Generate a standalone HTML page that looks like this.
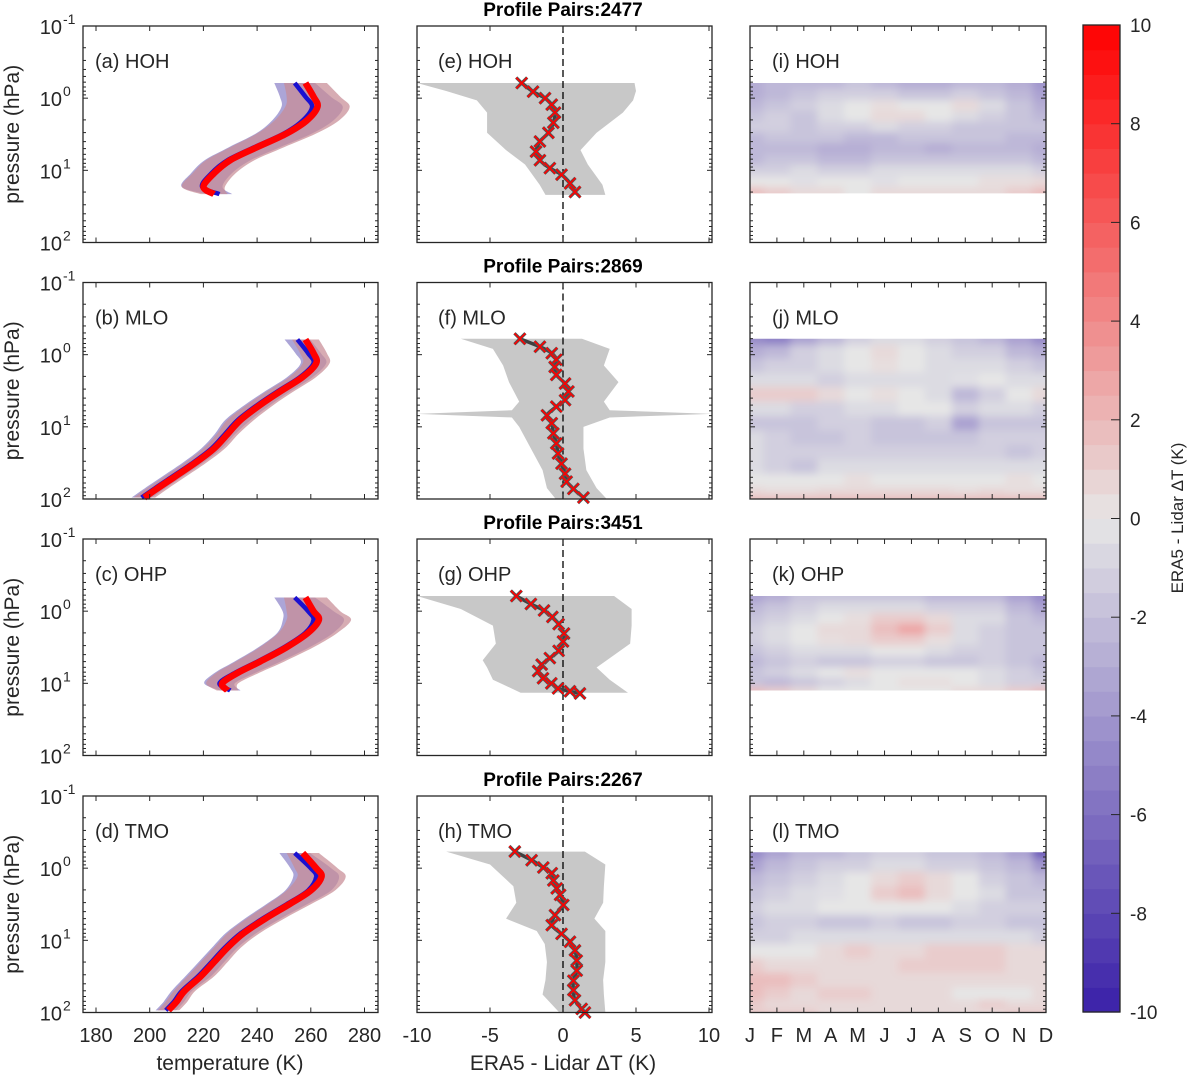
<!DOCTYPE html>
<html><head><meta charset="utf-8">
<style>
html,body{margin:0;padding:0;background:#fff;}
svg{display:block;font-family:"Liberation Sans","DejaVu Sans",sans-serif;}
</style></head>
<body>
<svg id="fig" xmlns="http://www.w3.org/2000/svg" width="1187" height="1075" viewBox="0 0 1187 1075">
<defs>
<filter id="blur" x="-20%" y="-20%" width="140%" height="140%"><feGaussianBlur stdDeviation="4"/></filter>
</defs>
</svg>
<script>
// ---------- data ----------
const stations = ['HOH','MLO','OHP','TMO'];
const pairCounts = [2477, 2869, 3451, 2267];
const letters1 = ['a','b','c','d'], letters2 = ['e','f','g','h'], letters3 = ['i','j','k','l'];
const tempTicks = [180,200,220,240,260,280];
const deltaTicks = [-10,-5,0,5,10];
const monthLabels = ['J','F','M','A','M','J','J','A','S','O','N','D'];
const cbarTicks = [-10,-8,-6,-4,-2,0,2,4,6,8,10];

// column 1: temperature profiles (log10 p, K)
const tLevHOH = [-0.21,-0.02,0.12,0.31,0.49,0.68,0.86,1.04,1.23,1.33];
const tEraHOH = [258,261,262.5,258.5,251,240,230,224,220,224];
const tLidHOH = [254,258,260.5,257,250,239,229,223,219.5,226];
const tSdHOH  = [8,10,12,12,11,10,9,8,8,5];
const tLevMLO = [-0.21,-0.02,0.12,0.31,0.5,0.7,0.9,1.1,1.3,1.5,1.7,1.85,1.98];
const tEraMLO = [258,261,262,257,249,241,234,229,224,217,209,203,198];
const tLidMLO = [255,259,261,256,248,240,233,228,223,216,208,202,197];
const tSdMLO  = [5,5,5,5,5,5,5,4,4,4,4,4,4];
const tLevOHP = [-0.19,0,0.12,0.3,0.5,0.7,0.85,1.0,1.1];
const tEraOHP = [258,261,263,259,251,241,233,227,229];
const tLidOHP = [254,259,261,258,250,240,232,226,230];
const tSdOHP  = [8,10,12,11,10,9,8,6,4];
const tLevTMO = [-0.21,0,0.12,0.31,0.5,0.7,0.9,1.1,1.3,1.5,1.7,1.85,1.97];
const tEraTMO = [257,262,264,260,252,243,235,229,224,219,213,210,207];
const tLidTMO = [254,260,262,259,251,242,234,228,223,218,212,209,206];
const tSdTMO  = [6,8,9,9,8,7,6,5,5,5,4,4,4];

// column 2: mean differences
const dLevHOH = [-0.21,-0.09,0,0.09,0.2,0.34,0.48,0.6,0.74,0.86,0.97,1.06,1.18,1.3];
const dValHOH = [-2.83,-2.05,-1.23,-0.77,-0.55,-0.66,-1.0,-1.58,-1.85,-1.58,-0.9,-0.1,0.48,0.82];
const bLevHOH = [-0.21,-0.1,0.03,0.2,0.48,0.72,0.92,1.2,1.34];
const bLoHOH  = [-10,-8,-5.9,-5.2,-5.2,-3.9,-2.6,-1.6,-1.2];
const bHiHOH  = [4.9,5.0,4.8,4.1,2.3,1.2,1.7,2.7,2.9];
const dLevMLO = [-0.22,-0.11,-0.02,0.07,0.17,0.28,0.4,0.51,0.63,0.72,0.84,0.95,1.09,1.23,1.37,1.51,1.65,1.76,1.86,1.98];
const dValMLO = [-2.95,-1.58,-0.77,-0.46,-0.57,-0.46,0.14,0.37,0.14,-0.46,-1.1,-0.77,-0.66,-0.46,-0.34,-0.1,0.14,0.25,0.71,1.4];
const bLevMLO = [-0.22,-0.08,0.15,0.38,0.65,0.77,0.82,0.87,1.0,1.3,1.6,1.85,2.0];
const bLoMLO  = [-7,-4.8,-4.1,-3.7,-3.0,-3.5,-10,-3.5,-3.0,-2.2,-1.4,-1.1,-0.5];
const bHiMLO  = [1.3,3.2,2.8,3.8,2.8,3.2,10.2,3.2,1.4,1.4,1.6,2.3,3.0];
const dLevOHP = [-0.21,-0.1,-0.01,0.08,0.18,0.31,0.42,0.55,0.65,0.74,0.83,0.93,1.0,1.07,1.11,1.14];
const dValOHP = [-3.2,-2.2,-1.3,-0.73,-0.3,0.07,0.0,-0.3,-0.9,-1.46,-1.7,-1.37,-0.8,-0.34,0.48,1.16];
const bLevOHP = [-0.21,-0.03,0.2,0.45,0.68,0.78,0.95,1.13];
const bLoOHP  = [-10,-7,-4.8,-4.6,-5.5,-5.2,-4.8,-2.9];
const bHiOHP  = [3.5,4.7,4.7,4.6,3.0,2.3,3.2,4.45];
const dLevTMO = [-0.23,-0.11,-0.01,0.07,0.17,0.28,0.37,0.51,0.65,0.79,0.91,1.02,1.14,1.28,1.42,1.56,1.69,1.83,1.95,2.0];
const dValTMO = [-3.3,-2.15,-1.35,-0.77,-0.66,-0.43,-0.2,0.02,-0.55,-0.77,-0.1,0.48,0.82,0.94,0.94,0.71,0.71,0.82,1.28,1.5];
const bLevTMO = [-0.23,-0.05,0.25,0.48,0.7,0.87,1.05,1.3,1.55,1.75,2.0];
const bLoTMO  = [-8,-5,-3.4,-3.2,-3.9,-1.8,-1.25,-1.1,-1.2,-1.4,-0.25];
const bHiTMO  = [1.5,2.9,2.8,2.75,2.15,2.9,2.9,2.9,2.75,2.8,2.9];

// column 3: monthly differences (rows = levels, cols = months)
const hLevHOH = [-0.21,-0.05,0.1,0.25,0.4,0.55,0.7,0.85,1.0,1.15,1.32];
const hValHOH = [
 [-2.5,-2,-2,-2,-1.5,-2,-2.5,-2.5,-2,-2,-2.5,-3.5],
 [-2.5,-2,-1.5,-1,-1,-1,-1.5,-1.5,-1,-1.5,-2,-3],
 [-2,-1.5,-1,-0.5,0,0.3,0,0,0.5,-0.5,-1.5,-2.5],
 [-1.5,-1,-1.5,-0.5,0,0.5,0.5,0,-0.5,-1,-1.5,-2],
 [-1,-1,-1.5,-1,-1,-0.5,-1,-1,-1.5,-1.5,-1.5,-1.5],
 [-2,-1.5,-1.5,-1.5,-2,-2,-1.5,-1.5,-1.5,-1.5,-2,-2],
 [-2,-2,-2,-2.5,-2.5,-2,-2,-2.5,-2,-2,-2,-2.5],
 [-2,-1.5,-1.5,-2,-2,-1.5,-1.5,-1.5,-1.5,-1.5,-1.5,-2],
 [-1,-1,-0.5,-1,-1,-0.5,-0.5,-0.5,-0.5,-0.5,-0.5,-1],
 [0,0,-0.3,0,0,-0.3,0,0,0,0.3,0.3,0.5],
 [1.5,1,0.5,0.5,0,0.5,0.5,0.5,0.5,0.5,1,1.5]];
const hLevMLO = [-0.22,-0.05,0.15,0.35,0.55,0.75,0.95,1.15,1.35,1.55,1.75,1.9,2.0];
const hValMLO = [
 [-4,-4.5,-3,-2,-1,-0.5,-0.5,-1,-1.5,-2,-3,-4],
 [-2.5,-2,-1,-0.5,0,0.5,0,-0.5,-1,-1,-2,-2.5],
 [-1.5,-1,-1,-0.5,0,0.3,0,-0.5,-0.5,-0.5,-1,-1.5],
 [-0.5,-0.5,-0.5,-1,-0.5,-0.5,-0.5,-0.5,-0.3,0,-0.5,-0.5],
 [1,1,1,0.5,0,0.3,0,-0.5,-2,-1,0,0.5],
 [-0.5,-0.5,-1,-1,-0.5,-0.5,0,0,-1,-0.5,-0.5,-1],
 [-1.5,-1.5,-1.5,-1,-1,-1.5,-1.5,-1,-3,-1.5,-1.5,-1.5],
 [-0.5,-1,-1.5,-1.5,-1,-1.5,-1.5,-1.5,-1.5,-1,-1,-1],
 [-0.5,-1,-1,-1,-1,-1,-1,-1,-1,-1,-1.5,-1],
 [-0.5,-1,-1.5,-0.5,-0.5,-0.5,-0.5,-0.5,-0.5,-0.5,-0.5,-0.5],
 [0,0,0,0,0.3,0,0,0,0,0,0.3,0],
 [0.5,0.3,0.3,0.5,0.5,0.5,0.5,0.5,0.3,0.5,0.3,0.3],
 [1.5,1.5,1.5,1.5,1.5,1.5,1.5,1.5,1.5,1.5,1.5,1.5]];
const hLevOHP = [-0.21,-0.05,0.1,0.25,0.4,0.55,0.7,0.85,1.0,1.1];
const hValOHP = [
 [-3,-2.5,-1.5,-1.5,-1.5,-1.5,-1.5,-2,-2,-2,-3,-4],
 [-2,-1.5,-1,-0.5,-0.5,-0.5,-0.5,-1,-1,-1,-2,-3],
 [-1.5,-1,-0.5,0,0.3,1,1,0.5,-0.5,-0.5,-1.5,-2],
 [-1,-0.5,0,0.5,0.5,1.5,2.5,1,-0.5,-1,-1.5,-1.5],
 [-1,-0.5,0,0.3,0.5,1,1,0.3,-0.5,-1,-1.5,-1.5],
 [-1.5,-1,-0.5,-0.5,-0.5,0,0,-0.5,-1,-1,-1.5,-1.5],
 [-2,-1.5,-1,-1.5,-1.5,-1,-1,-1.5,-1.5,-1,-1.5,-2],
 [-1.5,-1,-0.5,0,0.3,0,0,0,0,-0.5,-1,-1.5],
 [-1.5,-2,-1.5,-1,-0.5,0,0.3,0.3,0,-0.5,-1,-1],
 [1.5,1,0.5,0,0,0,0,0,0.5,0.5,1,1.5]];
const hLevTMO = [-0.22,-0.05,0.15,0.35,0.55,0.75,0.95,1.15,1.35,1.55,1.75,1.9,2.0];
const hValTMO = [
 [-4,-3,-2,-2,-1.5,-1,-1,-1.5,-1.5,-2,-3,-6],
 [-3,-2,-1.5,-1,-1,-0.5,-0.5,-1,-1,-1.5,-2,-3.5],
 [-2,-1.5,-1,-0.5,0,0.5,1,0.5,0,-1,-1.5,-2],
 [-1.5,-1,-0.5,-0.3,0,1,1.5,0.5,0,-0.5,-1.5,-1.5],
 [-1,-0.5,-0.5,0,0,0,0,0,-0.5,-1,-1,-1],
 [-1.5,-1,-1,-1.5,-1.5,-1,-1.5,-1.5,-1,-1,-1.5,-1.5],
 [-1,-1,-0.5,-0.5,-0.5,-0.5,-0.5,-0.5,-0.5,-0.5,-0.5,-1],
 [0,0,0,0.5,1,0.5,0.5,1,1,1,0.5,0.5],
 [1,0.5,0.5,0.5,0.5,0.5,1,1,1,1,0.5,0.5],
 [1.5,1.5,1,0.5,0.5,0.5,0.5,0.5,0.5,0.5,0.5,0.5],
 [1.5,1,0.5,1,1,0.5,0.5,0.5,0,0,0,0.5],
 [1,0.5,0.5,0.5,0.5,0.5,0.5,0.5,0.5,1,0.5,0.5],
 [1,1,1,0.5,0.5,0.5,0.5,0.5,0.5,0.5,1,1]];

const tLev=[tLevHOH,tLevMLO,tLevOHP,tLevTMO], tEra=[tEraHOH,tEraMLO,tEraOHP,tEraTMO],
      tLid=[tLidHOH,tLidMLO,tLidOHP,tLidTMO], tSd=[tSdHOH,tSdMLO,tSdOHP,tSdTMO];
const dLev=[dLevHOH,dLevMLO,dLevOHP,dLevTMO], dVal=[dValHOH,dValMLO,dValOHP,dValTMO];
const bLev=[bLevHOH,bLevMLO,bLevOHP,bLevTMO], bLo=[bLoHOH,bLoMLO,bLoOHP,bLoTMO], bHi=[bHiHOH,bHiMLO,bHiOHP,bHiTMO];
const hLev=[hLevHOH,hLevMLO,hLevOHP,hLevTMO], hVal=[hValHOH,hValMLO,hValOHP,hValTMO];

// ---------- layout / scales ----------
const NS='http://www.w3.org/2000/svg';
const svg=document.getElementById('fig');
const ROWT=[26,282.5,539,796], H=216.5;
const C1=[83,378], C2=[417,712], C3=[750,1046];
const TXT='#262626';
function yP(r,lp){return ROWT[r]+(lp+1)/3*H;}
function xT(t){return 96+(t-180)*2.685;}
function xD(d){return 563+d*14.6;}
function xM(m){return C3[0]+m*(C3[1]-C3[0])/11;}
function mk(tag,attrs,parent){const e=document.createElementNS(NS,tag);for(const k in attrs)e.setAttribute(k,attrs[k]);(parent||svg).appendChild(e);return e;}
function cmap(v){v=Math.max(-10,Math.min(10,v));const t=Math.abs(v)/10;const b=[230,230,230];const e=v<0?[58,32,168]:[255,0,0];
 return 'rgb('+b.map((c,i)=>Math.round(c+(e[i]-c)*t)).join(',')+')';}
function txt(x,y,s,opts,parent){const e=mk('text',Object.assign({x:x,y:y,fill:TXT,'font-size':20},opts||{}),parent);e.textContent=s;return e;}
function smoothSeg(p){let d='';
 for(let i=0;i<p.length-1;i++){const p0=p[Math.max(0,i-1)],p1=p[i],p2=p[i+1],p3=p[Math.min(p.length-1,i+2)];
  const c1=[p1[0]+(p2[0]-p0[0])/6,p1[1]+(p2[1]-p0[1])/6],c2=[p2[0]-(p3[0]-p1[0])/6,p2[1]-(p3[1]-p1[1])/6];
  d+=' C'+c1[0].toFixed(1)+' '+c1[1].toFixed(1)+' '+c2[0].toFixed(1)+' '+c2[1].toFixed(1)+' '+p2[0].toFixed(1)+' '+p2[1].toFixed(1);}
 return d;}
function smoothLine(p){return 'M'+p[0][0]+' '+p[0][1]+smoothSeg(p);}
function smoothBand(a,b){return 'M'+a[0][0]+' '+a[0][1]+smoothSeg(a)+' L'+b[0][0]+' '+b[0][1]+smoothSeg(b)+' Z';}

function axesBox(r,C,name){
 const g=mk('g',{});
 
 
 const top=ROWT[r];
 for(let d=-1;d<=2;d++){
  for(let k=1;k<=9;k++){
   if(d===2&&k>1)break;
   const lp=d+Math.log10(k), y=yP(r,lp), L=k===1?5:3;
   mk('line',{x1:C[0],y1:y,x2:C[0]+L,y2:y,stroke:TXT,'stroke-width':1},g);
   mk('line',{x1:C[1],y1:y,x2:C[1]-L,y2:y,stroke:TXT,'stroke-width':1},g);
  }
 }
 mk('rect',{x:C[0],y:top,width:C[1]-C[0],height:H,fill:'none',stroke:TXT,'stroke-width':1.3},g);
 return g;
}
function xTicks(r,xs,g){const top=ROWT[r],bot=ROWT[r]+H;
 xs.forEach(x=>{mk('line',{x1:x,y1:bot,x2:x,y2:bot-5,stroke:TXT,'stroke-width':1},g);mk('line',{x1:x,y1:top,x2:x,y2:top+5,stroke:TXT,'stroke-width':1},g);});}

for(let r=0;r<4;r++){
 const labY=ROWT[r]+42;
 // ---- column 1 ----
 const g1=mk('g',{});
 
 
 const L=tLev[r];
 const eHi=L.map((l,i)=>[xT(tEra[r][i]+tSd[r][i]),yP(r,l)]);
 const eLo=L.map((l,i)=>[xT(tEra[r][i]-tSd[r][i]),yP(r,l)]).reverse();
 const lHi=L.map((l,i)=>[xT(tLid[r][i]+tSd[r][i]*0.95),yP(r,l)]);
 const lLo=L.map((l,i)=>[xT(tLid[r][i]-tSd[r][i]*0.95),yP(r,l)]).reverse();
 const pb=mk('path',{d:smoothBand(lHi,lLo),fill:'rgb(140,130,200)','fill-opacity':0.72},g1);
 
 
 const pe=mk('path',{d:smoothBand(eHi,eLo),fill:'rgb(200,140,150)','fill-opacity':0.72},g1);
 
 
 const lb=mk('path',{d:smoothLine(L.map((l,i)=>[xT(tLid[r][i]),yP(r,l)])),fill:'none',stroke:'#1a10d0','stroke-width':4.5},g1);
 
 
 const lr=mk('path',{d:smoothLine(L.map((l,i)=>[xT(tEra[r][i]),yP(r,l)])),fill:'none',stroke:'#ff0000','stroke-width':6.5},g1);
 
 
 const a1=axesBox(r,C1,'temperature-axes-'+r);
 xTicks(r,tempTicks.map(xT),a1);
 const pl1=txt(95,labY,'('+letters1[r]+') '+stations[r],{},g1);
 
 
 for(let d=-1;d<=2;d++){
  const t=txt(62,yP(r,d)+8,'10',{'text-anchor':'end'});
  
  
  const s=txt(63,yP(r,d)-2,String(d),{'font-size':14});
  
  
 }
 const yl=txt(0,0,'pressure (hPa)',{'text-anchor':'middle',transform:'translate(19,'+(ROWT[r]+H/2)+') rotate(-90)','font-size':21});
 
 

 // ---- column 2 ----
 const g2=mk('g',{});
 
 
 const BL=bLev[r],pts=[];
 for(let i=0;i<BL.length;i++)pts.push(xD(bHi[r][i])+','+yP(r,BL[i]));
 for(let i=BL.length-1;i>=0;i--)pts.push(xD(bLo[r][i])+','+yP(r,BL[i]));
 const band=mk('polygon',{points:pts.join(' '),fill:'#c8c8c8'},g2);
 
 
 const zl=mk('line',{x1:xD(0),y1:ROWT[r],x2:xD(0),y2:ROWT[r]+H,stroke:'#000','stroke-width':1.3,'stroke-dasharray':'7,4'},g2);
 
 
 const DL=dLev[r];
 const ml=mk('path',{d:smoothLine(DL.map((l,i)=>[xD(dVal[r][i]),yP(r,l)])),fill:'none',stroke:'#404040','stroke-width':3.5},g2);
 
 
 DL.forEach((l,i)=>{
  const x=xD(dVal[r][i]),y=yP(r,l),s=5.5;
  const mg=mk('g',{},g2);
  
  
  const d='M'+(x-s)+' '+(y-s)+'L'+(x+s)+' '+(y+s)+'M'+(x-s)+' '+(y+s)+'L'+(x+s)+' '+(y-s);
  mk('path',{d:d,stroke:'#555','stroke-width':3.2,fill:'none'},mg);
  mk('path',{d:d,stroke:'#ff0000','stroke-width':1.6,fill:'none'},mg);
 });
 const a2=axesBox(r,C2,'difference-axes-'+r);
 xTicks(r,deltaTicks.map(xD),a2);
 const pl2=txt(438,labY,'('+letters2[r]+') '+stations[r],{},g2);
 
 
 const tt=txt(563,ROWT[r]-10,'Profile Pairs:'+pairCounts[r],{'text-anchor':'middle','font-weight':'bold','font-size':19,fill:'#000'});
 
 

 // ---- column 3 ----
 const g3=mk('g',{});
 
 
 const HL=hLev[r];
 const cid='clip'+r;
 const cp=mk('clipPath',{id:cid},svg.querySelector('defs'));
 mk('rect',{x:C3[0],y:yP(r,HL[0]),width:C3[1]-C3[0],height:yP(r,HL[HL.length-1])-yP(r,HL[0])},cp);
 const clipG=mk('g',{'clip-path':'url(#'+cid+')'},g3);
 const blurG=mk('g',{filter:'url(#blur)'},clipG);
 for(let k=0;k<HL.length;k++){
  const y0=k===0?yP(r,HL[0])-20:(yP(r,HL[k-1])+yP(r,HL[k]))/2;
  const y1=k===HL.length-1?yP(r,HL[k])+20:(yP(r,HL[k])+yP(r,HL[k+1]))/2;
  for(let m=0;m<12;m++){
   const x0=m===0?xM(0)-20:(xM(m-1)+xM(m))/2;
   const x1=m===11?xM(11)+20:(xM(m)+xM(m+1))/2;
   const c=mk('rect',{x:x0,y:y0,width:x1-x0+0.5,height:y1-y0+0.5,fill:cmap(hVal[r][k][m]*1.15)},blurG);
   
   
  }
 }
 const a3=axesBox(r,C3,'monthly-axes-'+r);
 xTicks(r,monthLabels.map((_,i)=>xM(i)),a3);
 const pl3=txt(772,labY,'('+letters3[r]+') '+stations[r],{},g3);
 
 
}
// bottom x labels
tempTicks.forEach(t=>{const e=txt(xT(t),1042,String(t),{'text-anchor':'middle'});});
deltaTicks.forEach(t=>{const e=txt(xD(t),1042,String(t),{'text-anchor':'middle'});});
monthLabels.forEach((t,i)=>{const e=txt(xM(i),1042,t,{'text-anchor':'middle'});});
const xt1=txt(230,1070,'temperature (K)',{'text-anchor':'middle','font-size':21});


const xt2=txt(563,1070,'ERA5 - Lidar ΔT (K)',{'text-anchor':'middle','font-size':21});



// colorbar
const CB={x:1083,w:37,top:25,bot:1012};
const cbg=mk('g',{});


const nSteps=40;
for(let i=0;i<nSteps;i++){
 const v0=-10+i*20/nSteps, v1=v0+20/nSteps;
 const y1=CB.bot-(v0+10)/20*(CB.bot-CB.top), y0=CB.bot-(v1+10)/20*(CB.bot-CB.top);
 mk('rect',{x:CB.x,y:y0,width:CB.w,height:y1-y0+0.6,fill:cmap((v0+v1)/2)},cbg);
}
mk('rect',{x:CB.x,y:CB.top,width:CB.w,height:CB.bot-CB.top,fill:'none',stroke:TXT,'stroke-width':1.3},cbg);
cbarTicks.forEach(v=>{
 const y=CB.bot-(v+10)/20*(CB.bot-CB.top);
 if(v>-10&&v<10)mk('line',{x1:CB.x+CB.w-9,y1:y,x2:CB.x+CB.w,y2:y,stroke:TXT,'stroke-width':1},cbg);
 const e=txt(1130,y+7,String(v),{'font-size':19},cbg);
 
 
});
const cbl=txt(0,0,'ERA5 - Lidar ΔT (K)',{'text-anchor':'middle','font-size':17,transform:'translate(1183,518) rotate(-90)'});


</script>
</body></html>
